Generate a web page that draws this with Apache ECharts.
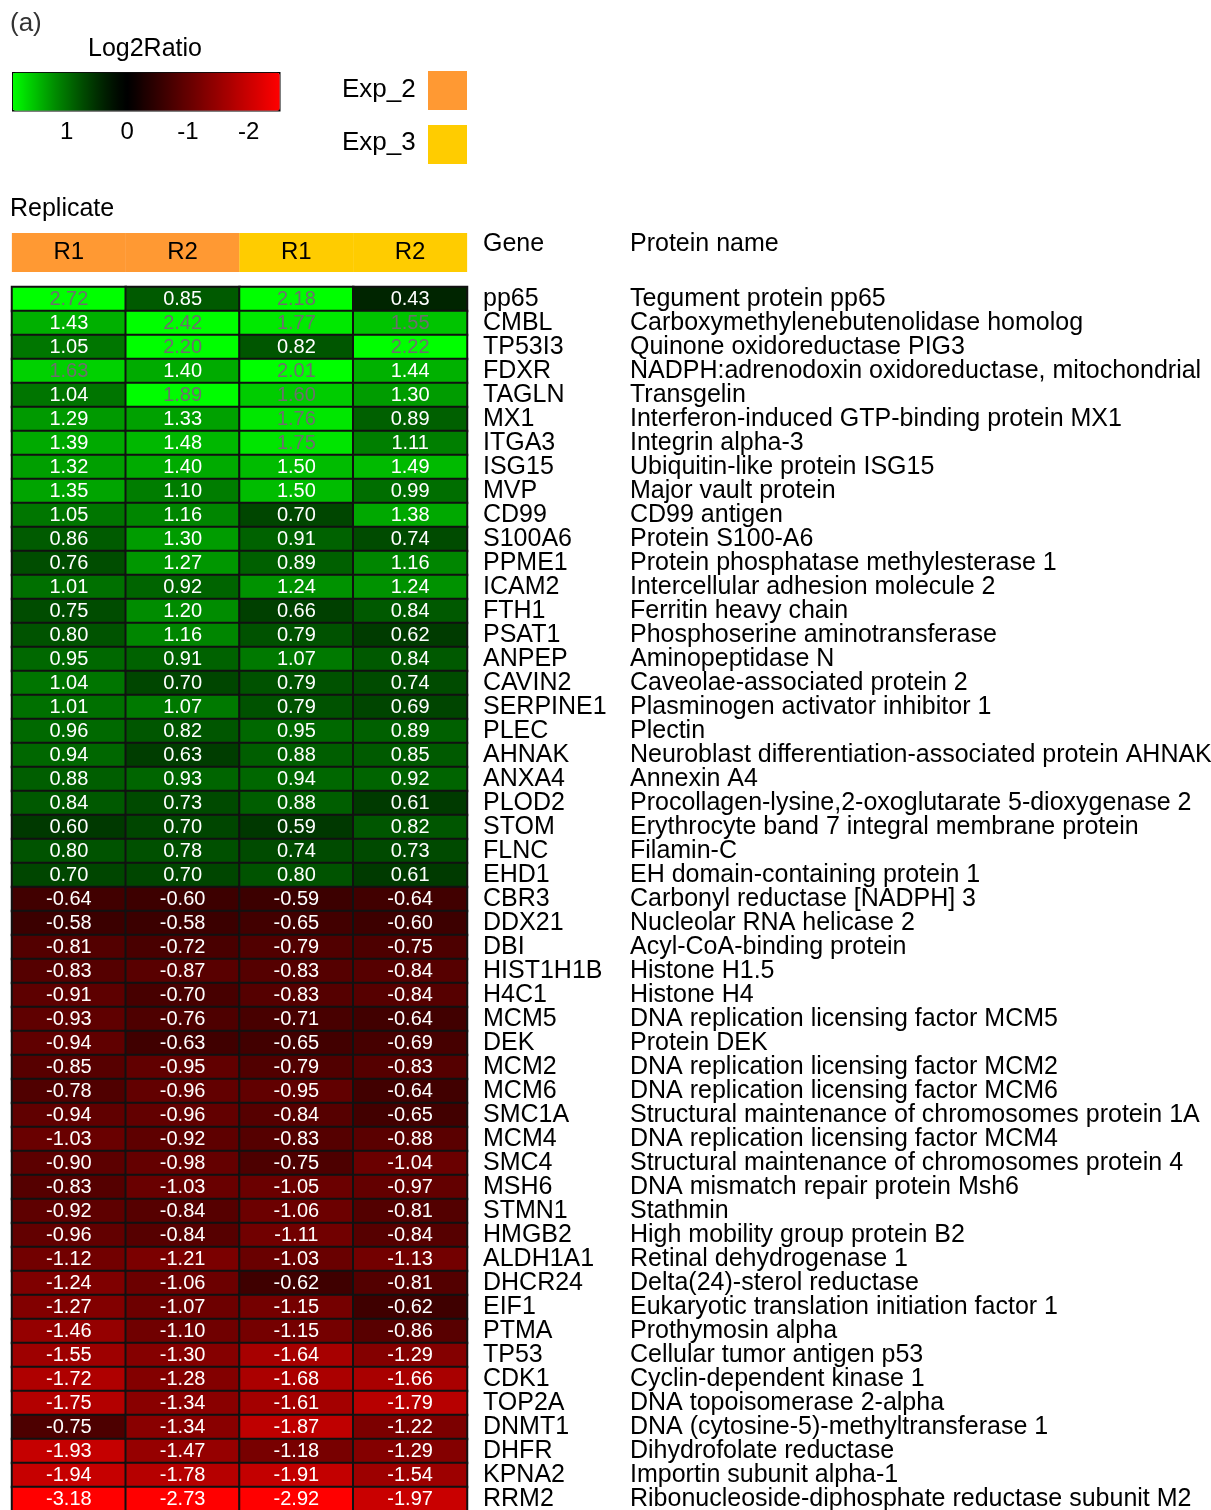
<!DOCTYPE html>
<html lang="en">
<head>
    <meta charset="UTF-8">
    <title>Log2Ratio heatmap</title>
    <style>
        body{ margin: 0; background: #fff; }
        #main{ width: 1211px; height: 1510px; }
    </style>
</head>
<body>
<div id="main"></div>
<script src="https://cdn.jsdelivr.net/npm/echarts@6/dist/echarts.min.js"></script>
<script>
    // column headers
    const replicates = ['R1', 'R2', 'R1', 'R2'];
    const experiments = ['Exp_2', 'Exp_2', 'Exp_3', 'Exp_3'];

    const genes = ['pp65', 'CMBL', 'TP53I3', 'FDXR', 'TAGLN', 'MX1', 'ITGA3', 'ISG15', 'MVP', 'CD99',
        'S100A6', 'PPME1', 'ICAM2', 'FTH1', 'PSAT1', 'ANPEP', 'CAVIN2', 'SERPINE1', 'PLEC', 'AHNAK',
        'ANXA4', 'PLOD2', 'STOM', 'FLNC', 'EHD1', 'CBR3', 'DDX21', 'DBI', 'HIST1H1B', 'H4C1',
        'MCM5', 'DEK', 'MCM2', 'MCM6', 'SMC1A', 'MCM4', 'SMC4', 'MSH6', 'STMN1', 'HMGB2',
        'ALDH1A1', 'DHCR24', 'EIF1', 'PTMA', 'TP53', 'CDK1', 'TOP2A', 'DNMT1', 'DHFR', 'KPNA2', 'RRM2'];

    const proteins = ['Tegument protein pp65', 'Carboxymethylenebutenolidase homolog', 'Quinone oxidoreductase PIG3',
        'NADPH:adrenodoxin oxidoreductase, mitochondrial', 'Transgelin', 'Interferon-induced GTP-binding protein MX1',
        'Integrin alpha-3', 'Ubiquitin-like protein ISG15', 'Major vault protein', 'CD99 antigen',
        'Protein S100-A6', 'Protein phosphatase methylesterase 1', 'Intercellular adhesion molecule 2',
        'Ferritin heavy chain', 'Phosphoserine aminotransferase', 'Aminopeptidase N', 'Caveolae-associated protein 2',
        'Plasminogen activator inhibitor 1', 'Plectin', 'Neuroblast differentiation-associated protein AHNAK',
        'Annexin A4', 'Procollagen-lysine,2-oxoglutarate 5-dioxygenase 2', 'Erythrocyte band 7 integral membrane protein',
        'Filamin-C', 'EH domain-containing protein 1', 'Carbonyl reductase [NADPH] 3', 'Nucleolar RNA helicase 2',
        'Acyl-CoA-binding protein', 'Histone H1.5', 'Histone H4', 'DNA replication licensing factor MCM5',
        'Protein DEK', 'DNA replication licensing factor MCM2', 'DNA replication licensing factor MCM6',
        'Structural maintenance of chromosomes protein 1A', 'DNA replication licensing factor MCM4',
        'Structural maintenance of chromosomes protein 4', 'DNA mismatch repair protein Msh6', 'Stathmin',
        'High mobility group protein B2', 'Retinal dehydrogenase 1', 'Delta(24)-sterol reductase',
        'Eukaryotic translation initiation factor 1', 'Prothymosin alpha', 'Cellular tumor antigen p53',
        'Cyclin-dependent kinase 1', 'DNA topoisomerase 2-alpha', 'DNA (cytosine-5)-methyltransferase 1',
        'Dihydrofolate reductase', 'Importin subunit alpha-1', 'Ribonucleoside-diphosphate reductase subunit M2'];

    // Log2Ratio per column, same order as genes
    const exp2R1 = [2.72, 1.43, 1.05, 1.63, 1.04, 1.29, 1.39, 1.32, 1.35, 1.05,
        0.86, 0.76, 1.01, 0.75, 0.80, 0.95, 1.04, 1.01, 0.96, 0.94,
        0.88, 0.84, 0.60, 0.80, 0.70, -0.64, -0.58, -0.81, -0.83, -0.91,
        -0.93, -0.94, -0.85, -0.78, -0.94, -1.03, -0.90, -0.83, -0.92, -0.96,
        -1.12, -1.24, -1.27, -1.46, -1.55, -1.72, -1.75, -0.75, -1.93, -1.94, -3.18];
    const exp2R2 = [0.85, 2.42, 2.20, 1.40, 1.89, 1.33, 1.48, 1.40, 1.10, 1.16,
        1.30, 1.27, 0.92, 1.20, 1.16, 0.91, 0.70, 1.07, 0.82, 0.63,
        0.93, 0.73, 0.70, 0.78, 0.70, -0.60, -0.58, -0.72, -0.87, -0.70,
        -0.76, -0.63, -0.95, -0.96, -0.96, -0.92, -0.98, -1.03, -0.84, -0.84,
        -1.21, -1.06, -1.07, -1.10, -1.30, -1.28, -1.34, -1.34, -1.47, -1.78, -2.73];
    const exp3R1 = [2.18, 1.77, 0.82, 2.01, 1.60, 1.76, 1.75, 1.50, 1.50, 0.70,
        0.91, 0.89, 1.24, 0.66, 0.79, 1.07, 0.79, 0.79, 0.95, 0.88,
        0.94, 0.88, 0.59, 0.74, 0.80, -0.59, -0.65, -0.79, -0.83, -0.83,
        -0.71, -0.65, -0.79, -0.95, -0.84, -0.83, -0.75, -1.05, -1.06, -1.11,
        -1.03, -0.62, -1.15, -1.15, -1.64, -1.68, -1.61, -1.87, -1.18, -1.91, -2.92];
    const exp3R2 = [0.43, 1.55, 2.22, 1.44, 1.30, 0.89, 1.11, 1.49, 0.99, 1.38,
        0.74, 1.16, 1.24, 0.84, 0.62, 0.84, 0.74, 0.69, 0.89, 0.85,
        0.92, 0.61, 0.82, 0.73, 0.61, -0.64, -0.60, -0.75, -0.84, -0.84,
        -0.64, -0.69, -0.83, -0.64, -0.65, -0.88, -1.04, -0.97, -0.81, -0.84,
        -1.13, -0.81, -0.62, -0.86, -1.29, -1.66, -1.79, -1.22, -1.29, -1.54, -1.97];

    const columns = [exp2R1, exp2R2, exp3R1, exp3R2];

    // colour scale: red (-2.5) -> black (0) -> green (1.9)
    const vMin = -2.5, vMax = 1.9;
    function scaleColor(v) {
        if (v >= 0) {
            const g = Math.round(255 * Math.pow(Math.min(v / vMax, 1), 1.3));
            return 'rgb(0,' + g + ',0)';
        }
        const r = Math.round(255 * Math.min(v / vMin, 1));
        return 'rgb(' + r + ',0,0)';
    }
    const colorStops = [];
    for (let k = 0; k <= 88; k++) {
        colorStops.push(scaleColor(vMin + k * 0.05));
    }

    const cells = [];
    columns.forEach(function (col, c) {
        col.forEach(function (v, r) {
            cells.push({
                value: [c, r, v],
                label: {color: v >= 1.52 ? '#6e6e6e' : '#ffffff'}
            });
        });
    });

    const font = '"Liberation Sans", Arial, sans-serif';
    const myChart = echarts.init(document.getElementById('main'));

    const option = {
        backgroundColor: '#fff',
        animation: false,
        textStyle: {fontFamily: font},
        grid: [
            {left: 12, top: 287, width: 455, height: 1224, outerBoundsMode: 'none'},
            // axis for the colour bar
            {left: 12, top: 72, width: 267, height: 38, outerBoundsMode: 'none'}
        ],
        xAxis: [{
            type: 'category',
            position: 'top',
            data: replicates,
            axisLine: {show: false},
            axisTick: {show: false},
            splitLine: {show: false},
            axisLabel: {
                interval: 0,
                margin: 15,
                formatter: function (v, i) {
                    return '{' + (experiments[i] === 'Exp_2' ? 'o' : 'y') + '|' + v + '}';
                },
                rich: {
                    o: {backgroundColor: '#FF9933', width: 114, height: 39, align: 'center',
                        fontSize: 24, color: '#000', fontFamily: font},
                    y: {backgroundColor: '#FFCC00', width: 114, height: 39, align: 'center',
                        fontSize: 24, color: '#000', fontFamily: font}
                }
            }
        }, {
            gridIndex: 1,
            type: 'value',
            min: vMin,
            max: vMax,
            inverse: true,
            splitNumber: 4,
            position: 'bottom',
            axisLine: {show: false},
            splitLine: {show: false},
            axisTick: {inside: true, length: 6, lineStyle: {color: '#222', width: 1.5}},
            axisLabel: {margin: 10, fontSize: 24, color: '#000', showMinLabel: false, showMaxLabel: false}
        }],
        yAxis: [{
            type: 'category',
            data: genes,
            inverse: true,
            position: 'right',
            axisLine: {show: false},
            axisTick: {show: false},
            splitLine: {show: false},
            axisLabel: {
                interval: 0,
                margin: 16,
                formatter: function (v, i) {
                    return '{g|' + v + '}{p|' + proteins[i] + '}';
                },
                rich: {
                    g: {width: 147, fontSize: 25, color: '#000', fontFamily: font},
                    p: {fontSize: 25, color: '#000', fontFamily: font}
                }
            }
        }, {
            gridIndex: 1,
            type: 'value',
            min: 0,
            max: 1,
            show: false
        }],
        visualMap: {
            type: 'continuous',
            seriesIndex: 0,
            dimension: 2,
            min: vMin,
            max: vMax,
            orient: 'horizontal',
            inverse: true,
            left: 12,
            top: 72,
            itemWidth: 38,
            itemHeight: 267,
            padding: 0,
            calculable: false,
            hoverLink: false,
            borderColor: '#000',
            borderWidth: 1.5,
            inRange: {color: colorStops}
        },
        graphic: [
            {type: 'text', left: 10, top: 11, style: {text: '(a)', fontSize: 26, fill: '#333', fontFamily: font}},
            {type: 'text', left: 88, top: 37, style: {text: 'Log2Ratio', fontSize: 25, fill: '#000', fontFamily: font}},
            {type: 'text', left: 342, top: 77, style: {text: 'Exp_2', fontSize: 26, fill: '#000', fontFamily: font}},
            {type: 'rect', left: 428, top: 71, shape: {width: 39, height: 39}, style: {fill: '#FF9933'}},
            {type: 'text', left: 342, top: 130, style: {text: 'Exp_3', fontSize: 26, fill: '#000', fontFamily: font}},
            {type: 'rect', left: 428, top: 125, shape: {width: 39, height: 39}, style: {fill: '#FFCC00'}},
            {type: 'text', left: 10, top: 197, style: {text: 'Replicate', fontSize: 25, fill: '#000', fontFamily: font}},
            {type: 'text', left: 483, top: 232, style: {text: 'Gene', fontSize: 25, fill: '#000', fontFamily: font}},
            {type: 'text', left: 630, top: 232, style: {text: 'Protein name', fontSize: 25, fill: '#000', fontFamily: font}}
        ],
        series: [{
            type: 'heatmap',
            xAxisIndex: 0,
            yAxisIndex: 0,
            data: cells,
            itemStyle: {borderColor: '#111', borderWidth: 2},
            label: {
                show: true,
                fontSize: 20,
                fontFamily: font,
                formatter: function (p) {
                    return p.value[2].toFixed(2);
                }
            }
        }]
    };
    myChart.setOption(option);
</script>
</body>
</html>
